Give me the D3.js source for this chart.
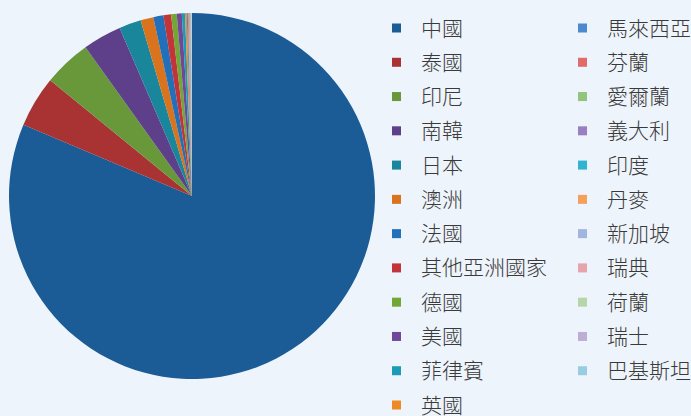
<!DOCTYPE html>
<html><head><meta charset="utf-8">
<script src="https://cdn.jsdelivr.net/npm/d3@7"></script>
<style>
html,body{margin:0;padding:0;background:#eef4fb;}
svg{display:block;}
</style></head>
<body>
<svg id="chart" width="691" height="416"></svg>
<script>
const categories = ["中國","泰國","印尼","南韓","日本","澳洲","法國","其他亞洲國家","德國","美國","菲律賓","英國",
  "馬來西亞","芬蘭","愛爾蘭","義大利","印度","丹麥","新加坡","瑞典","荷蘭","瑞士","巴基斯坦"];
const values = [81.36,4.53,4.22,3.42,1.94,1.14,0.89,0.67,0.50,0.44,0.28,0.15,
  0.10,0.07,0.06,0.05,0.04,0.03,0.03,0.02,0.02,0.02,0.02];
const colors = ["#1b5c96","#a93232","#68983a","#5d3f8a","#19869b","#d9731d","#2170b9","#c3333a","#72a735","#71479a","#1a9bb6","#ee8a25",
  "#4c89cf","#e16a6a","#93c47d","#9b80c1","#30b4d0","#f4a05b","#a1b6de","#e5a5aa","#b6d6a9","#bcaed5","#97cde1"];

const svg = d3.select("#chart");
const cx = 192, cy = 196, r = 183;
const data = categories.map((c,i)=>({name:c, value:values[i], color:colors[i]}));
const pie = d3.pie().value(d=>d.value).sort(null);
const arc = d3.arc().innerRadius(0).outerRadius(r);
svg.append("g").attr("transform",`translate(${cx},${cy})`)
  .selectAll("path").data(pie(data)).join("path")
  .attr("d",arc).attr("fill",d=>d.data.color);

const rowY = d3.scaleLinear().domain([0,11]).range([28,405]);
const colX = [392, 578];
const leg = svg.append("g");
data.forEach((d,i)=>{
  const col = i<12?0:1, row = i<12?i:i-12;
  const y = rowY(row);
  leg.append("rect").attr("x",colX[col]).attr("y",y-4.5).attr("width",9).attr("height",9).attr("fill",d.color);
  leg.append("text").attr("x",colX[col]+29).attr("y",y).attr("dy","0.36em")
    .attr("font-family","'Noto Sans CJK TC','Noto Sans CJK SC',sans-serif").attr("font-size",21)
    .attr("font-weight",300)
    .attr("fill","#3a3a3a").text(d.name);
});
</script>
</body></html>
